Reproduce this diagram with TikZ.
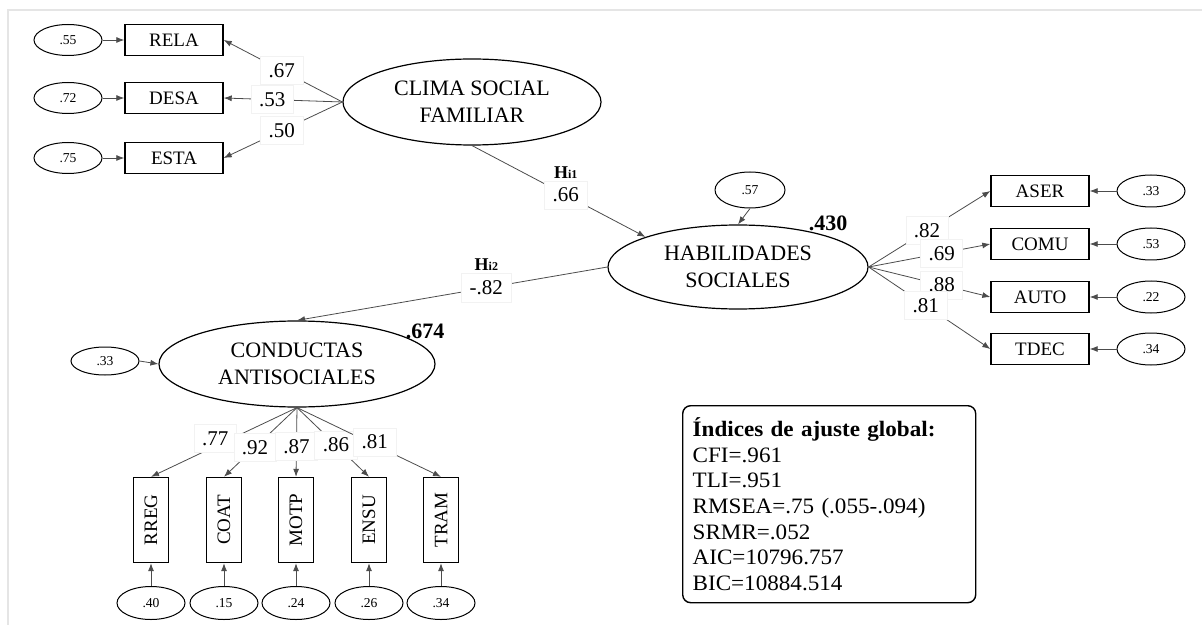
\documentclass[tikz,border=0pt]{standalone}
\usepackage{fontspec}
\setmainfont{Liberation Serif}
\newfontfamily\fitfont[FakeStretch=1.05]{Liberation Serif}
\usetikzlibrary{arrows.meta,shapes.geometric}

\begin{document}
\begin{tikzpicture}[x=0.5pt, y=-0.5pt,
  latent/.style = {ellipse, draw, line width=0.6pt, inner sep=0pt,
    align=center, font=\fontsize{11}{13.5}\selectfont},
  obs/.style = {rectangle, draw, line width=0.7pt, inner sep=0pt,
    minimum width=49pt, minimum height=15.5pt, font=\fontsize{9.5}{11}\selectfont},
  vobs/.style = {obs, rotate=90, minimum width=42.5pt, minimum height=17.5pt},
  err/.style = {ellipse, draw, line width=0.5pt, inner sep=0pt,
    minimum width=34pt, minimum height=15.5pt, font=\fontsize{6.8}{8}\selectfont},
  conn/.style = {draw=black!70, line width=0.4pt, -{Latex[length=4pt,width=3pt]}},
  ld/.style = {fill=white, draw=black!5, line width=0.3pt, inner xsep=4pt,
    inner ysep=3.5pt, font=\fontsize{10.5}{12}\selectfont},
  r2/.style = {font=\fontsize{11}{12}\selectfont\bfseries},
  hyp/.style = {font=\fontsize{9}{10}\selectfont\bfseries, inner sep=1pt,
    label distance=0pt},
  fitbox/.style = {draw, rounded corners=4pt, line width=0.7pt, align=left,
    inner xsep=5pt, text width=136.5pt, minimum height=98.5pt,
    font=\fitfont\fontsize{11}{12.8}\selectfont}]
 \useasboundingbox (0,0) rectangle (1202,625);
 \draw[black!10, line width=1.2pt] (8,625) -- (8,10) -- (1202,10);

 \node[err] (e55) at (68,40) {.55};
 \node[obs] (RELA) at (174,40) {RELA};
 \node[err] (e72) at (68,98) {.72};
 \node[obs] (DESA) at (174,98) {DESA};
 \node[err] (e75) at (68,158) {.75};
 \node[obs] (ESTA) at (174,158) {ESTA};
 \node[latent, minimum width=129pt, minimum height=43pt] (CSF) at (472,102)
   {CLIMA SOCIAL\\FAMILIAR};

 \node[latent, minimum width=130pt, minimum height=42pt] (HS) at (738,267)
   {HABILIDADES\\SOCIALES};
 \node[err, minimum width=35pt, minimum height=18pt] (e57) at (750,190) {.57};
 \node[r2] (r2HS) at (828,223) {.430};

 \node[obs] (ASER) at (1040,191) {ASER};
 \node[obs] (COMU) at (1040,244) {COMU};
 \node[obs] (AUTO) at (1040,297) {AUTO};
 \node[obs] (TDEC) at (1040,349) {TDEC};
 \node[err, minimum height=16pt] (eASER) at (1151,191) {.33};
 \node[err, minimum height=16pt] (eCOMU) at (1151,244) {.53};
 \node[err, minimum height=16pt] (eAUTO) at (1151,297) {.22};
 \node[err, minimum height=16pt] (eTDEC) at (1151,349) {.34};

 \node[latent, minimum width=138pt, minimum height=43pt] (CA) at (297,364)
   {CONDUCTAS\\ANTISOCIALES};
 \node[err, minimum height=14pt] (eCA) at (105,361) {.33};
 \node[r2] (r2CA) at (425,331) {.674};

 \node[vobs] (RREG) at (151,520) {RREG};
 \node[vobs] (COAT) at (224,520) {COAT};
 \node[vobs] (MOTP) at (296,520) {MOTP};
 \node[vobs] (ENSU) at (369,520) {ENSU};
 \node[vobs] (TRAM) at (441,520) {TRAM};
 \node[err, minimum height=16.5pt] (eRREG) at (151,603) {.40};
 \node[err, minimum height=16.5pt] (eCOAT) at (224,603) {.15};
 \node[err, minimum height=16.5pt] (eMOTP) at (296,603) {.24};
 \node[err, minimum height=16.5pt] (eENSU) at (369,603) {.26};
 \node[err, minimum height=16.5pt] (eTRAM) at (441,603) {.34};

 \node[fitbox, anchor=north west] (fit) at (682,405)
   {\textbf{Índices de ajuste global:}\\ CFI=.961\\ TLI=.951\\
    RMSEA=.75 (.055-.094)\\ SRMR=.052\\ AIC=10796.757\\ BIC=10884.514};

 \draw[conn] (e55.east) -- (RELA.west);
 \draw[conn] (e72.east) -- (DESA.west);
 \draw[conn] (e75.east) -- (ESTA.west);
 \draw[conn] (CSF.west) -- node[ld, pos=.51] {.67} (RELA.east);
 \draw[conn] (CSF.west) -- node[ld, pos=.59] {.53} (DESA.east);
 \draw[conn] (CSF.west) -- node[ld, pos=.51] {.50} (ESTA.east);

 \draw[conn] (CSF.south) -- node[ld, pos=.54,
   label={[hyp]above:H{\fontsize{6}{7}\selectfont i1}}] {.66} (HS.162);
 \draw[conn] (e57.south) -- (HS.north);
 \draw[conn] (HS.west) -- node[ld, pos=.39,
   label={[hyp]above:H{\fontsize{6}{7}\selectfont i2}}] {-.82} (CA.north);

 \draw[conn] (HS.east) -- node[ld, pos=.48] {.82} (ASER.west);
 \draw[conn] (HS.east) -- node[ld, pos=.6] {.69} (COMU.west);
 \draw[conn] (HS.east) -- node[ld, pos=.6] {.88} (AUTO.west);
 \draw[conn] (HS.east) -- node[ld, pos=.47] {.81} (TDEC.west);
 \draw[conn] (eASER.west) -- (ASER.east);
 \draw[conn] (eCOMU.west) -- (COMU.east);
 \draw[conn] (eAUTO.west) -- (AUTO.east);
 \draw[conn] (eTDEC.west) -- (TDEC.east);

 \draw[conn] (eCA.east) -- (CA.west);
 \draw[conn] (CA.south) -- node[ld, pos=.56, yshift=4pt] {.77} (RREG.east);
 \draw[conn] (CA.south) -- node[ld, pos=.575] {.92} (COAT.east);
 \draw[conn] (CA.south) -- node[ld, pos=.56] {.87} (MOTP.east);
 \draw[conn] (CA.south) -- node[ld, pos=.54] {.86} (ENSU.east);
 \draw[conn] (CA.south) -- node[ld, pos=.54, yshift=1.5pt] {.81} (TRAM.east);
 \draw[conn] (eRREG.north) -- (RREG.west);
 \draw[conn] (eCOAT.north) -- (COAT.west);
 \draw[conn] (eMOTP.north) -- (MOTP.west);
 \draw[conn] (eENSU.north) -- (ENSU.west);
 \draw[conn] (eTRAM.north) -- (TRAM.west);
\end{tikzpicture}
\end{document}
